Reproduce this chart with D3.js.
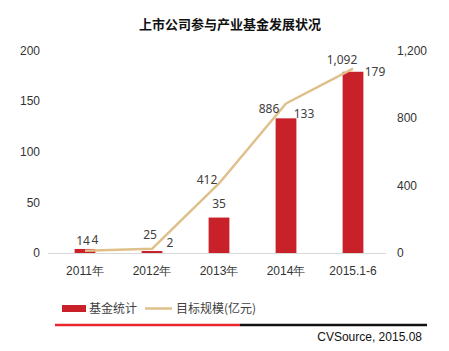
<!DOCTYPE html>
<html>
<head>
<meta charset="utf-8">
<script src="https://cdn.jsdelivr.net/npm/d3@7"></script>
<style>
  body { margin: 0; background: #fff; }
  svg { display: block; font-family: "Noto Sans", "Noto Sans CJK SC", sans-serif; }
  .tick text { fill: #333; font-size: 12px; }
</style>
</head>
<body>
<div id="chart"></div>
<script>
// data
const categories = ['2011年', '2012年', '2013年', '2014年', '2015.1-6'];
const fundCount = [4, 2, 35, 133, 179];          // 基金统计 (bars, left axis)
const targetSize = [14, 25, 412, 886, 1092];     // 目标规模(亿元) (line, right axis)
const leftTicks = [0, 50, 100, 150, 200];
const rightTicks = [0, 400, 800, 1200];

// label nudges (Excel-style placement), kept separately from the data
const barLabelOffset = [[10, -9], [18, -8], [0, -14], [18, -5], [22, 0]];
const lineLabelOffset = [[-2, -10], [-2, -14], [-12, -4], [-17, 5], [-11, -9]];

const W = 449, H = 351;
const red = '#c9212a', tan = '#dfc08a';

const svg = d3.select('#chart').append('svg')
    .attr('width', W)
    .attr('height', H);

svg.append('text')
    .attr('x', 230)
    .attr('y', 29)
    .attr('text-anchor', 'middle')
    .style('font-size', '13px')
    .style('font-weight', 'bold')
    .style('font-family', '"Noto Sans CJK SC", sans-serif')
    .style('fill', '#111')
    .text('上市公司参与产业基金发展状况');

const xScale = d3.scaleBand()
    .domain(categories)
    .range([51.5, 386.5])
    .paddingInner(0.69)
    .paddingOuter(0.345);

const yLeft = d3.scaleLinear().domain([0, 200]).range([253, 50.5]);
const yRight = d3.scaleLinear().domain([0, 1200]).range([253, 50.5]);

const cx = d => xScale(d) + xScale.bandwidth() / 2;

// axes (no domain line, no tick marks)
svg.append('g')
    .attr('transform', 'translate(40,0)')
    .call(d3.axisLeft(yLeft).tickValues(leftTicks).tickSize(0).tickPadding(0))
    .call(g => g.select('.domain').remove());

svg.append('g')
    .attr('transform', 'translate(397,0)')
    .call(d3.axisRight(yRight).tickValues(rightTicks).tickSize(0).tickPadding(0).tickFormat(d3.format(',')))
    .call(g => g.select('.domain').remove());

svg.append('g')
    .attr('transform', 'translate(0,253)')
    .call(d3.axisBottom(xScale).tickSize(0).tickPadding(13))
    .call(g => g.select('.domain').attr('stroke', '#d9d9d9').attr('d', 'M48,0.5H386'))
    .call(g => g.selectAll('.tick text').style('font-size', '12px'));

// bars
svg.selectAll('.bar')
    .data(fundCount)
    .join('rect')
    .attr('class', 'bar')
    .attr('x', (d, i) => xScale(categories[i]))
    .attr('y', d => yLeft(d))
    .attr('width', xScale.bandwidth())
    .attr('height', d => 253 - yLeft(d))
    .attr('fill', red);

// line
const line = d3.line()
    .x((d, i) => cx(categories[i]))
    .y(d => yRight(d));

svg.append('path')
    .datum(targetSize)
    .attr('d', line)
    .attr('fill', 'none')
    .attr('stroke', tan)
    .attr('stroke-width', 2.5)
    .attr('stroke-linejoin', 'round');

// data labels
const fmt = d3.format(',');
svg.selectAll('.bar-label')
    .data(fundCount)
    .join('text')
    .attr('class', 'bar-label')
    .attr('x', (d, i) => cx(categories[i]) + barLabelOffset[i][0])
    .attr('y', (d, i) => yLeft(d) + barLabelOffset[i][1])
    .attr('dy', '0.35em')
    .attr('text-anchor', 'middle')
    .style('font-size', '12px')
    .style('fill', '#404040')
    .text(d => fmt(d));

svg.selectAll('.line-label')
    .data(targetSize)
    .join('text')
    .attr('class', 'line-label')
    .attr('x', (d, i) => cx(categories[i]) + lineLabelOffset[i][0])
    .attr('y', (d, i) => yRight(d) + lineLabelOffset[i][1])
    .attr('dy', '0.35em')
    .attr('text-anchor', 'middle')
    .style('font-size', '12px')
    .style('fill', '#404040')
    .text(d => fmt(d));

// legend
const legend = svg.append('g').style('font-family', '"Noto Sans CJK SC", sans-serif');
legend.append('rect')
    .attr('x', 62).attr('y', 305)
    .attr('width', 24).attr('height', 7)
    .attr('fill', red);
legend.append('text')
    .attr('x', 89).attr('y', 308.5).attr('dy', '0.35em')
    .style('font-size', '12px').style('fill', '#404040')
    .text('基金统计');
legend.append('line')
    .attr('x1', 145).attr('x2', 172)
    .attr('y1', 308.5).attr('y2', 308.5)
    .attr('stroke', tan).attr('stroke-width', 2.5);
legend.append('text')
    .attr('x', 176).attr('y', 308.5).attr('dy', '0.35em')
    .style('font-size', '12px').style('fill', '#404040')
    .text('目标规模(亿元)');

// footer rule and source
svg.append('line')
    .attr('x1', 55).attr('x2', 240)
    .attr('y1', 325).attr('y2', 325)
    .attr('stroke', '#e8262d').attr('stroke-width', 2.5);
svg.append('line')
    .attr('x1', 240).attr('x2', 427)
    .attr('y1', 325).attr('y2', 325)
    .attr('stroke', '#111').attr('stroke-width', 2.5);
svg.append('text')
    .attr('x', 422).attr('y', 337).attr('dy', '0.35em')
    .attr('text-anchor', 'end')
    .style('font-size', '12px')
    .style('font-family', '"Liberation Sans", Arial, sans-serif')
    .style('fill', '#111')
    .text('CVSource, 2015.08');
</script>
</body>
</html>
